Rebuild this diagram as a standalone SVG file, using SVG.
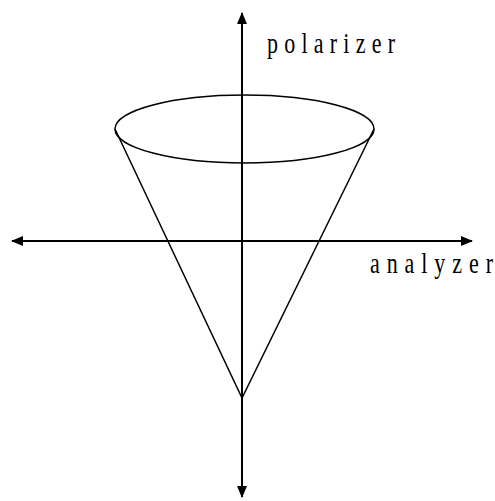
<svg xmlns="http://www.w3.org/2000/svg" width="495" height="501" viewBox="0 0 495 501">
<style>
.ax{stroke:#000;stroke-width:2;fill:none}
.ln{stroke:#000;stroke-width:1.5;fill:none}
.lb{font-family:"Liberation Serif",serif;font-size:22px;fill:#000}
</style>
<defs>
<marker id="ah" viewBox="0 0 12 10" refX="11" refY="5" markerWidth="12" markerHeight="10" markerUnits="userSpaceOnUse" orient="auto">
<path d="M0,0 L12,5 L0,10 Z" fill="#000"/>
</marker>
</defs>
<rect width="495" height="501" fill="#fff"/>
<g id="connectors">
<line class="ax" x1="242" y1="241" x2="242" y2="13" marker-end="url(#ah)"/>
<line class="ax" x1="242" y1="241" x2="242" y2="497" marker-end="url(#ah)"/>
<line class="ax" x1="242" y1="241" x2="12" y2="241" marker-end="url(#ah)"/>
<line class="ax" x1="242" y1="241" x2="472" y2="241" marker-end="url(#ah)"/>
</g>
<g id="cone">
<ellipse class="ln" cx="244.5" cy="129" rx="129.5" ry="34"/>
<polyline class="ln" points="115,129 242,398 374,129"/>
</g>
<g id="polarizer">
<text class="lb" transform="translate(267,53) scale(1,1.3)" x="0" y="0" textLength="128" lengthAdjust="spacing">polarizer</text>
</g>
<g id="analyzer">
<text class="lb" transform="translate(370,273) scale(1,1.3)" x="0" y="0" textLength="123" lengthAdjust="spacing">analyzer</text>
</g>
</svg>
